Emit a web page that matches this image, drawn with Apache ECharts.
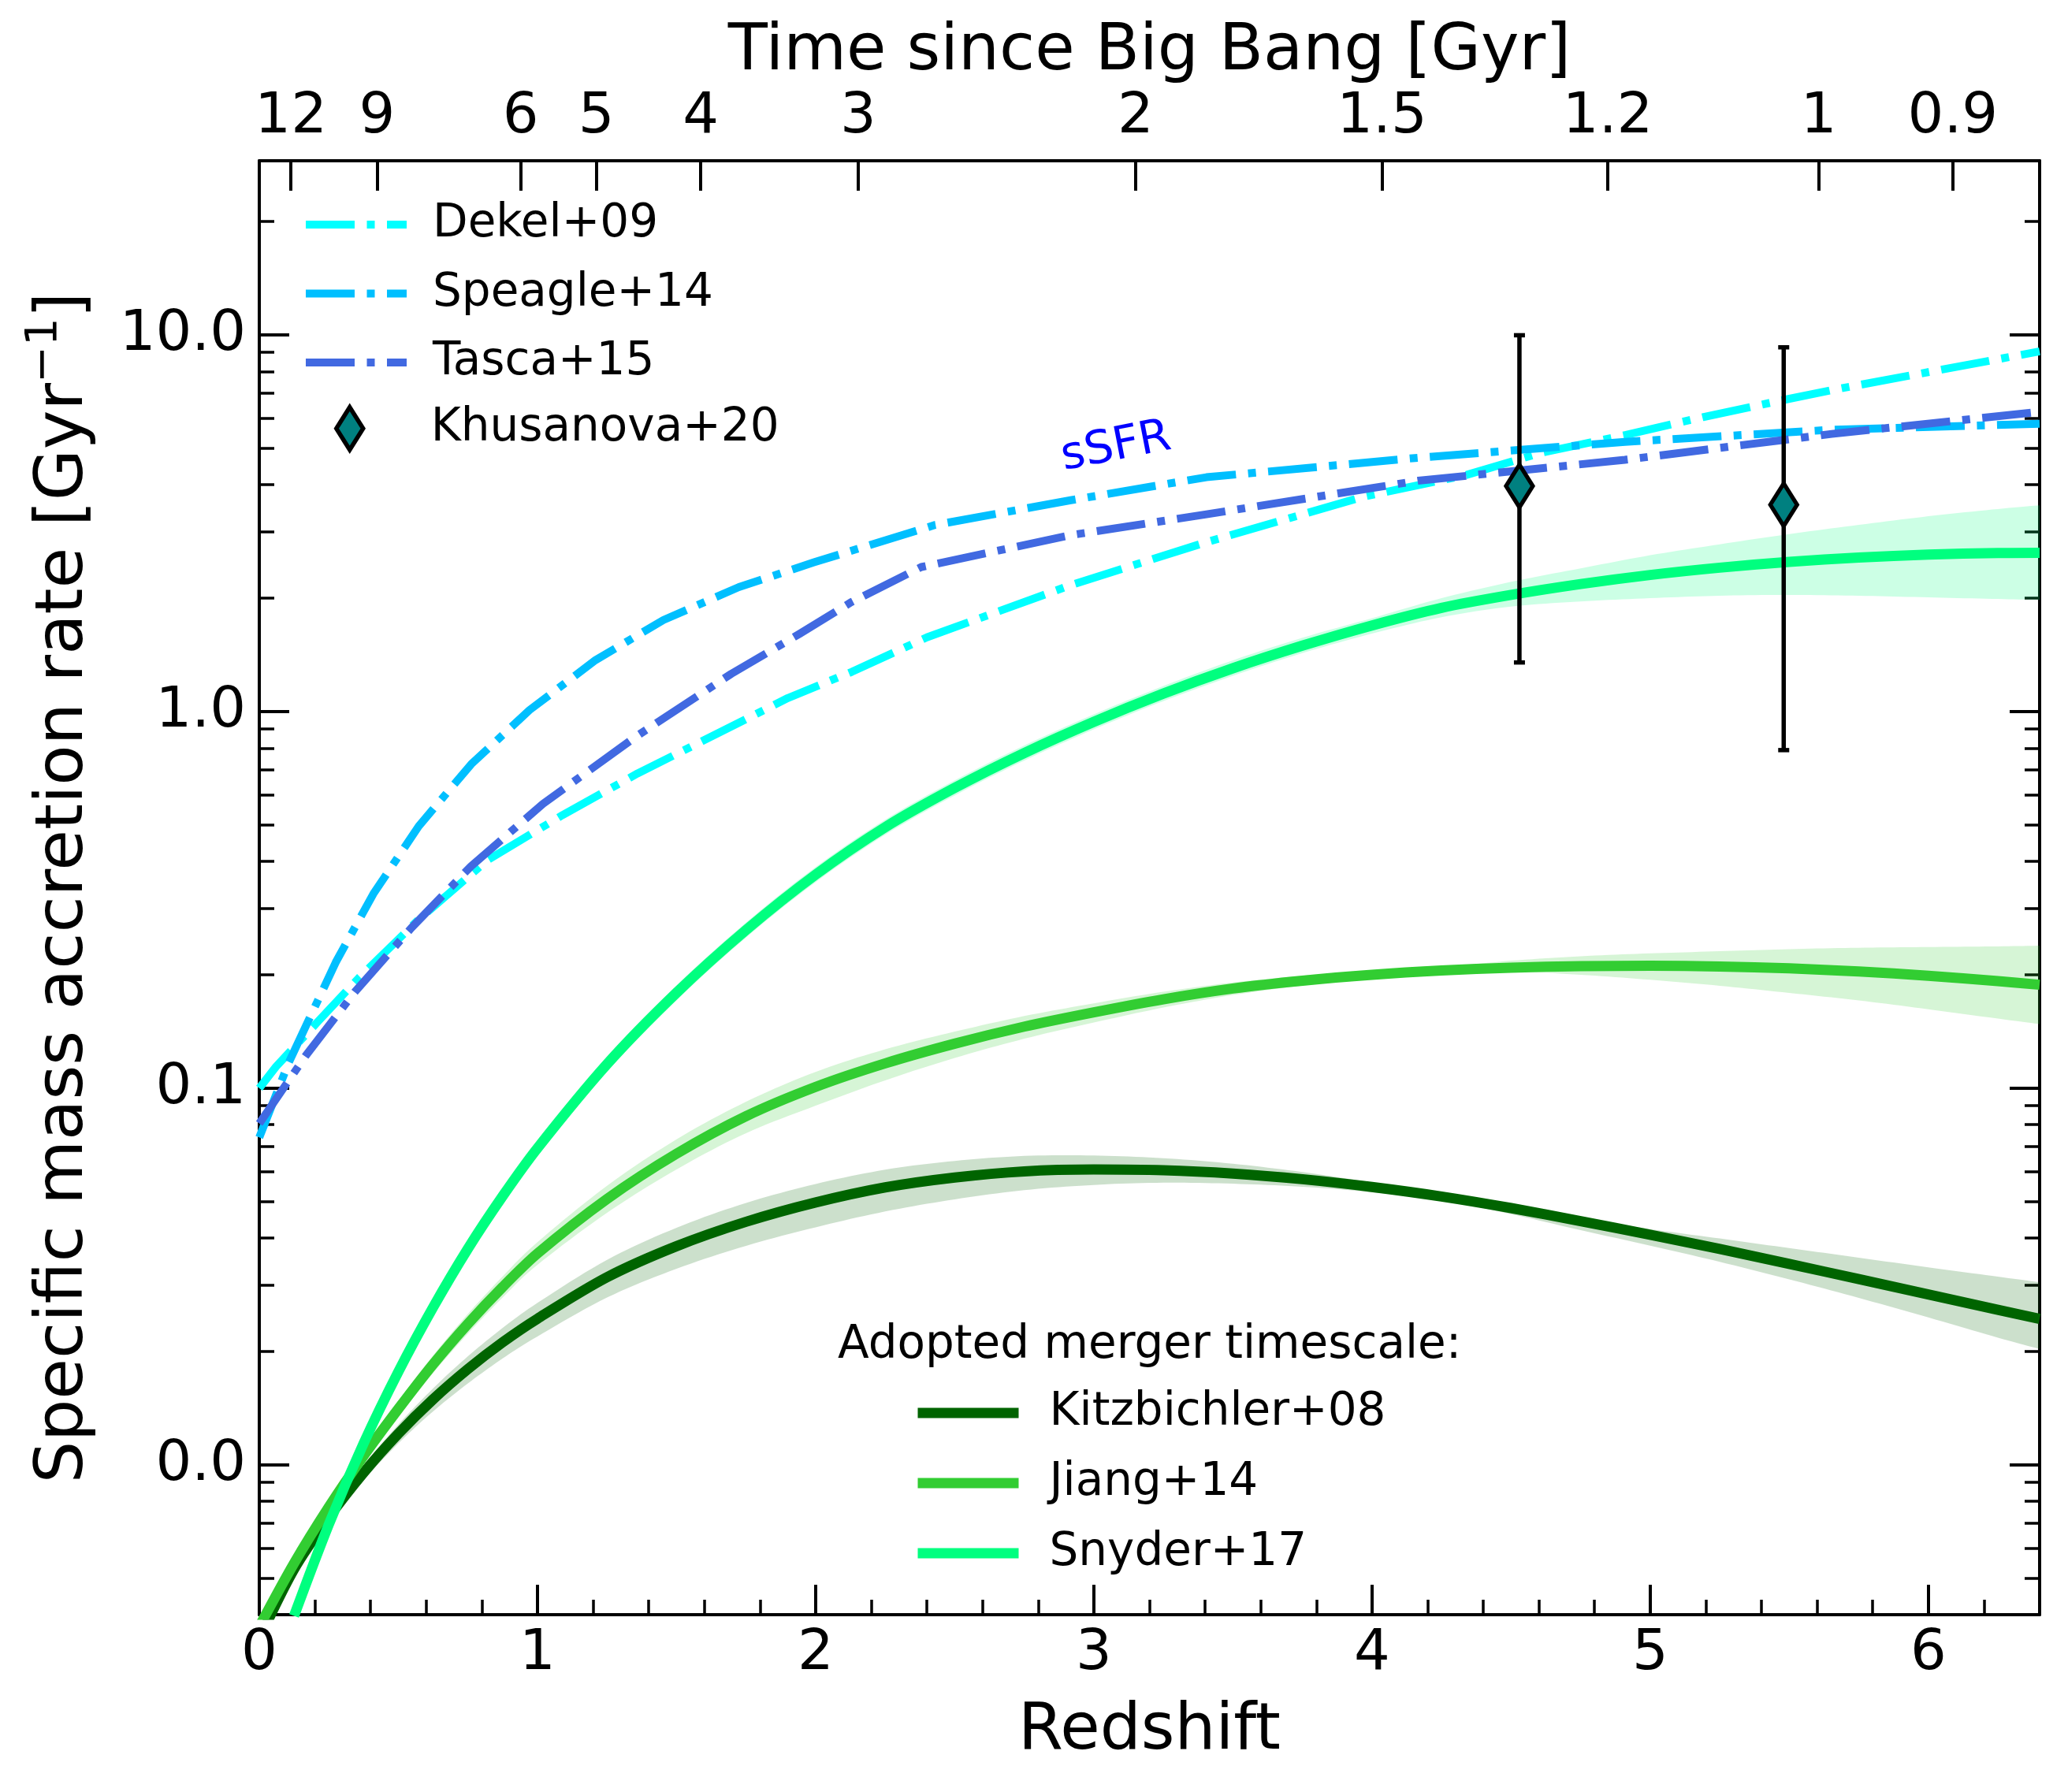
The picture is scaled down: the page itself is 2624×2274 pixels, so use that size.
<!DOCTYPE html>
<html>
<head>
<meta charset="utf-8">
<script src="https://cdn.jsdelivr.net/npm/echarts@6/dist/echarts.min.js"></script>
<style>html,body{margin:0;padding:0;background:#fff}#chart{width:2624px;height:2274px}</style>
</head>
<body>
<div id="chart"></div>
<script>
// ---------------- data ----------------
const redshiftTicks = [0, 1, 2, 3, 4, 5, 6];
const redshiftMinorTicks = [0.2,0.4,0.6,0.8,1.2,1.4,1.6,1.8,2.2,2.4,2.6,2.8,3.2,3.4,3.6,3.8,4.2,4.4,4.6,4.8,5.2,5.4,5.6,5.8,6.2];
const ageTickLabels = ['12','9','6','5','4','3','2','1.5','1.2','1','0.9'];
const ageTickGyr = [12, 9, 6, 5, 4, 3, 2, 1.5, 1.2, 1, 0.9];
const rateTicks = [0.01, 0.1, 1, 10];
const rateMinorTicks = [0.005,0.006,0.007,0.008,0.009,0.02,0.03,0.04,0.05,0.06,0.07,0.08,0.09,0.2,0.3,0.4,0.5,0.6,0.7,0.8,0.9,2,3,4,5,6,7,8,9,20];

// sSFR relations (dash-dot)
const dekelZ    = [0, 0.06, 0.21, 0.36, 0.57, 0.82, 1.09, 1.36, 1.63, 1.90, 2.13, 2.40, 2.92, 3.40, 3.97, 4.34, 4.61, 4.91, 5.19, 5.48, 5.65, 6.40];
const dekelRate = [0.100, 0.114, 0.150, 0.197, 0.279, 0.403, 0.531, 0.685, 0.862, 1.086, 1.275, 1.574, 2.17, 2.81, 3.72, 4.25, 4.87, 5.42, 6.05, 6.72, 7.13, 9.04];
const speagleZ    = [0, 0.106, 0.275, 0.41, 0.573, 0.762, 0.972, 1.209, 1.453, 1.724, 1.994, 2.43, 2.917, 3.405, 4.166, 4.909, 5.653, 6.4];
const speagleRate = [0.074, 0.117, 0.216, 0.328, 0.496, 0.725, 1.01, 1.37, 1.75, 2.14, 2.49, 3.13, 3.64, 4.19, 4.72, 5.2, 5.6, 5.81];
const tascaZ    = [0, 0.167, 0.343, 0.546, 0.762, 1.02, 1.358, 1.697, 1.943, 2.127, 2.38, 2.917, 3.405, 4.166, 4.909, 5.653, 6.4];
const tascaRate = [0.0806, 0.122, 0.18, 0.266, 0.389, 0.569, 0.862, 1.26, 1.61, 1.95, 2.42, 2.94, 3.34, 4.1, 4.66, 5.46, 6.25];

// Khusanova+20 points
const khusZ    = [4.53, 5.48];
const khusRate = [3.97, 3.54];
const khusLow  = [1.35, 0.79];
const khusHigh = [9.98, 9.27];

// merger-rate based curves (solid) with their ranges
const kitzZ    = [0, 0.125, 0.25, 0.375, 0.5, 0.625, 0.75, 0.875, 1, 1.25, 1.5, 1.75, 2, 2.25, 2.5, 2.75, 3, 3.25, 3.5, 3.75, 4, 4.25, 4.5, 4.75, 5, 5.25, 5.5, 5.75, 6, 6.25, 6.4];
const kitzRate = [0.00345, 0.00528, 0.00725, 0.00953, 0.0121, 0.01493, 0.01796, 0.02116, 0.02443, 0.03148, 0.03806, 0.04419, 0.04973, 0.05453, 0.05792, 0.06014, 0.06083, 0.06055, 0.05934, 0.05733, 0.05467, 0.05157, 0.04805, 0.04437, 0.04083, 0.03741, 0.03415, 0.03112, 0.02833, 0.0258, 0.02441];
const kitzLow  = [0.003387, 0.00516, 0.00702, 0.0091, 0.0114, 0.01387, 0.01645, 0.01916, 0.02192, 0.0278, 0.03315, 0.03814, 0.04272, 0.04706, 0.05068, 0.0536, 0.05535, 0.05612, 0.05576, 0.05475, 0.05294, 0.05039, 0.04631, 0.04198, 0.03819, 0.03459, 0.03107, 0.02774, 0.02462, 0.02176, 0.0203];
const kitzHigh = [0.003514, 0.0054, 0.00749, 0.00996, 0.01279, 0.01596, 0.01942, 0.02309, 0.02691, 0.035, 0.0426, 0.04958, 0.05567, 0.06076, 0.0641, 0.06609, 0.06624, 0.06518, 0.063, 0.05989, 0.0562, 0.05253, 0.04872, 0.0452, 0.04226, 0.0399, 0.03762, 0.03548, 0.03344, 0.03159, 0.03052];

const jiangZ    = [0, 0.125, 0.25, 0.375, 0.5, 0.625, 0.75, 0.875, 1, 1.25, 1.5, 1.75, 2, 2.25, 2.5, 2.75, 3, 3.25, 3.5, 3.75, 4, 4.25, 4.5, 4.75, 5, 5.25, 5.5, 5.75, 6, 6.25, 6.4];
const jiangRate = [0.00372, 0.00548, 0.00773, 0.01056, 0.01408, 0.0185, 0.02369, 0.02967, 0.0364, 0.0508, 0.067, 0.0843, 0.1008, 0.1164, 0.1313, 0.1457, 0.159, 0.1722, 0.1839, 0.1929, 0.2, 0.2053, 0.2089, 0.2109, 0.2113, 0.2104, 0.208, 0.2041, 0.1989, 0.1925, 0.1882];
const jiangLow  = [0.00364, 0.00534, 0.00752, 0.01018, 0.01345, 0.01754, 0.02231, 0.02782, 0.03397, 0.04666, 0.06086, 0.07598, 0.08984, 0.1049, 0.1203, 0.1353, 0.1494, 0.1637, 0.1768, 0.1872, 0.1954, 0.2011, 0.204, 0.2, 0.194, 0.187, 0.179, 0.171, 0.162, 0.153, 0.148];
const jiangHigh = [0.00381, 0.00562, 0.00795, 0.01096, 0.01474, 0.01951, 0.02516, 0.03165, 0.039, 0.05506, 0.07315, 0.09204, 0.1105, 0.1268, 0.1413, 0.1554, 0.168, 0.1803, 0.1908, 0.1988, 0.2047, 0.2096, 0.218, 0.224, 0.228, 0.231, 0.234, 0.236, 0.237, 0.238, 0.239];

const snyderZ    = [0.125, 0.25, 0.375, 0.5, 0.625, 0.75, 0.875, 1, 1.25, 1.5, 1.75, 2, 2.25, 2.5, 2.75, 3, 3.25, 3.5, 3.75, 4, 4.25, 4.5, 4.75, 5, 5.25, 5.5, 5.75, 6, 6.25, 6.4];
const snyderRate = [0.00397, 0.00695, 0.0114, 0.01767, 0.0262, 0.0375, 0.0517, 0.0693, 0.1158, 0.1792, 0.263, 0.369, 0.493, 0.627, 0.776, 0.939, 1.116, 1.303, 1.496, 1.693, 1.885, 2.04, 2.18, 2.305, 2.41, 2.497, 2.564, 2.61, 2.636, 2.64];
const snyderLow  = [0.00388, 0.00676, 0.01104, 0.01703, 0.02514, 0.0359, 0.04937, 0.06618, 0.1106, 0.1711, 0.2512, 0.3524, 0.4708, 0.5988, 0.7411, 0.8967, 1.066, 1.244, 1.43, 1.61, 1.78, 1.9, 1.96, 2.0, 2.03, 2.04, 2.03, 2.01, 1.99, 1.98];
const snyderHigh = [0.00406, 0.00714, 0.01177, 0.01833, 0.02731, 0.03918, 0.05414, 0.07257, 0.1213, 0.1876, 0.2754, 0.3864, 0.5162, 0.6566, 0.8126, 0.9833, 1.169, 1.368, 1.57, 1.77, 2.0, 2.21, 2.4, 2.6, 2.78, 2.96, 3.13, 3.3, 3.45, 3.53];

// ---------------- helpers ----------------
const FONT = 'DejaVu Sans';
const L = v => Math.log10(v);               // y axis is logarithmic (decades)
const pairs = (zs, vs) => zs.map((z, i) => [z, L(vs[i])]);
const yMin = L(0.004), yMax = L(29), zMax = 6.4;

// flat LCDM (H0 = 70, Om = 0.3): redshift at a given age, places the top-axis ticks
function redshiftAtAge(tGyr) {
  const H0 = 70, Om = 0.3, OL = 1 - Om;
  const tH = 977.79 / H0;
  const A = 2 * tH / (3 * Math.sqrt(OL));
  const B = Math.sqrt(OL / Om);
  return Math.pow(Math.sinh(tGyr / A) / B, -2 / 3) - 1;
}
const ageTickZ = ageTickGyr.map(redshiftAtAge);

function catmull(pts, seg) {
  const out = [], n = pts.length;
  for (let i = 0; i < n - 1; i++) {
    const p0 = pts[Math.max(i - 1, 0)], p1 = pts[i], p2 = pts[i + 1], p3 = pts[Math.min(i + 2, n - 1)];
    for (let s = 0; s < seg; s++) {
      const t = s / seg, t2 = t * t, t3 = t2 * t;
      const f = k => 0.5 * ((2 * p1[k]) + (-p0[k] + p2[k]) * t + (2 * p0[k] - 5 * p1[k] + 4 * p2[k] - p3[k]) * t2 + (-p0[k] + 3 * p1[k] - 3 * p2[k] + p3[k]) * t3);
      out.push([f(0), f(1)]);
    }
  }
  out.push(pts[n - 1]);
  return out;
}

function band(zs, lo, hi, color) {
  return {
    type: 'custom', xAxisIndex: 0, yAxisIndex: 0, clip: true, silent: true, z: 1,
    data: [[zs[0], L(lo[0])]],
    renderItem: (params, api) => {
      const up = zs.map((z, i) => api.coord([z, L(hi[i])]));
      const dn = zs.map((z, i) => api.coord([z, L(lo[i])]));
      const pts = catmull(up, 10).concat(catmull(dn, 10).reverse());
      return { type: 'polygon', shape: { points: pts }, style: { fill: color } };
    }
  };
}

function curve(name, zs, vs, color, width, dash, smooth, z) {
  return {
    name, type: 'line', xAxisIndex: 0, yAxisIndex: 0, data: pairs(zs, vs),
    symbol: 'none', showSymbol: false, smooth, clip: true, z, silent: true,
    lineStyle: { color, width, type: dash || 'solid', cap: 'butt', join: 'round' },
    itemStyle: { color: 'rgba(0,0,0,0)' }
  };
}

const dashDot = [62, 15.5, 10, 15.5];
const DASH_W = 10, GREEN_W = 13;
const tickLine = w => ({ color: '#000', width: w });

const option = {
  animation: false,
  backgroundColor: '#ffffff',
  grid: { left: 329, right: 36, top: 204, bottom: 225, containLabel: false },
  xAxis: [
    { type: 'value', position: 'bottom', min: 0, max: zMax,
      axisLine: { show: true, onZero: false, lineStyle: tickLine(4) },
      axisTick: { show: true, inside: true, length: 38, customValues: redshiftTicks, lineStyle: tickLine(4) },
      axisLabel: { show: true, customValues: redshiftTicks, margin: 14, fontSize: 72, fontFamily: FONT, color: '#000' },
      splitLine: { show: false },
      name: 'Redshift', nameLocation: 'middle', nameGap: 108,
      nameTextStyle: { fontSize: 82, fontFamily: FONT, color: '#000' } },
    { type: 'value', position: 'bottom', min: 0, max: zMax,
      axisLine: { show: false, onZero: false },
      axisTick: { show: true, inside: true, length: 19, customValues: redshiftMinorTicks, lineStyle: tickLine(3.5) },
      axisLabel: { show: false }, splitLine: { show: false } },
    { type: 'value', position: 'top', min: 0, max: zMax,
      axisLine: { show: true, onZero: false, lineStyle: tickLine(4) },
      axisTick: { show: true, inside: true, length: 38, customValues: ageTickZ, lineStyle: tickLine(4) },
      axisLabel: { show: true, customValues: ageTickZ, margin: 19, fontSize: 72, fontFamily: FONT, color: '#000',
        formatter: v => { let b = 0; ageTickZ.forEach((z, i) => { if (Math.abs(z - v) < Math.abs(ageTickZ[b] - v)) b = i; }); return ageTickLabels[b]; } },
      splitLine: { show: false },
      name: 'Time since Big Bang [Gyr]', nameLocation: 'middle', nameGap: 79,
      nameTextStyle: { fontSize: 82, fontFamily: FONT, color: '#000' } }
  ],
  yAxis: [
    { type: 'value', position: 'left', min: yMin, max: yMax,
      axisLine: { show: true, onZero: false, lineStyle: tickLine(4) },
      axisTick: { show: true, inside: true, length: 38, customValues: rateTicks.map(L), lineStyle: tickLine(4) },
      axisLabel: { show: true, customValues: rateTicks.map(L), margin: 17, fontSize: 72, fontFamily: FONT, color: '#000',
        formatter: v => Math.pow(10, v).toFixed(1) },
      splitLine: { show: false },
      name: '{a|Specific mass accretion rate [Gyr}{s|\u22121}{a|]}', nameLocation: 'middle', nameGap: 193, nameRotate: 90,
      nameTextStyle: { color: '#000', rich: {
        a: { fontSize: 84, fontFamily: FONT, color: '#000', lineHeight: 108 },
        s: { fontSize: 56, fontFamily: FONT, color: '#000', lineHeight: 56, verticalAlign: 'top' } } } },
    { type: 'value', position: 'left', min: yMin, max: yMax,
      axisLine: { show: false, onZero: false },
      axisTick: { show: true, inside: true, length: 19, customValues: rateMinorTicks.map(L), lineStyle: tickLine(3.5) },
      axisLabel: { show: false }, splitLine: { show: false } },
    { type: 'value', position: 'right', min: yMin, max: yMax,
      axisLine: { show: true, onZero: false, lineStyle: tickLine(4) },
      axisTick: { show: true, inside: true, length: 38, customValues: rateTicks.map(L), lineStyle: tickLine(4) },
      axisLabel: { show: false }, splitLine: { show: false } },
    { type: 'value', position: 'right', min: yMin, max: yMax,
      axisLine: { show: false, onZero: false },
      axisTick: { show: true, inside: true, length: 19, customValues: rateMinorTicks.map(L), lineStyle: tickLine(3.5) },
      axisLabel: { show: false }, splitLine: { show: false } }
  ],
  legend: [
    { data: ['Dekel+09', 'Speagle+14', 'Tasca+15'], orient: 'vertical', left: 383, top: 256,
      itemWidth: 128, itemHeight: 56, itemGap: 29.5, selectedMode: false, padding: 0,
      lineStyle: { width: DASH_W }, itemStyle: { opacity: 0 },
      textStyle: { fontSize: 58, fontFamily: FONT, color: '#000', padding: [0, 0, 0, 28] } },
    { data: [{ name: 'Khusanova+20', icon: 'path://M17,0L34,27L17,54L0,27Z',
               itemStyle: { color: '#008080', borderColor: '#000', borderWidth: 5.5 } }],
      orient: 'vertical', left: 424, top: 514, itemWidth: 116, itemHeight: 54, selectedMode: false, padding: 0,
      textStyle: { fontSize: 58, fontFamily: FONT, color: '#000', padding: [0, 0, 0, 40] } },
    { data: ['Kitzbichler+08', 'Jiang+14', 'Snyder+17'], orient: 'vertical', left: 1158, top: 1764,
      itemWidth: 128, itemHeight: 56, itemGap: 31, selectedMode: false, padding: 0,
      lineStyle: { width: 13 }, itemStyle: { opacity: 0 },
      textStyle: { fontSize: 58, fontFamily: FONT, color: '#000', padding: [0, 0, 0, 34] } }
  ],
  graphic: [
    { id: 'mergerTitle', type: 'text', x: 1063, y: 1708, silent: true,
      style: { text: 'Adopted merger timescale:', fill: '#000', fontSize: 58, fontFamily: FONT,
               align: 'left', verticalAlign: 'middle', textAlign: 'left', textVerticalAlign: 'middle' } }
  ],
  series: [
    band(kitzZ, kitzLow, kitzHigh, 'rgba(0,100,0,0.2)'),
    band(jiangZ, jiangLow, jiangHigh, 'rgba(50,205,50,0.2)'),
    band(snyderZ, snyderLow, snyderHigh, 'rgba(0,255,127,0.2)'),
    curve('Kitzbichler+08', kitzZ, kitzRate, '#006400', GREEN_W, 'solid', 0.3, 3),
    curve('Jiang+14', jiangZ, jiangRate, '#32CD32', GREEN_W, 'solid', 0.3, 3),
    curve('Snyder+17', snyderZ, snyderRate, '#00FF7F', GREEN_W, 'solid', 0.3, 3),
    curve('Dekel+09', dekelZ, dekelRate, '#00FFFF', DASH_W, dashDot, false, 4),
    curve('Speagle+14', speagleZ, speagleRate, '#00BFFF', DASH_W, dashDot, false, 4),
    curve('Tasca+15', tascaZ, tascaRate, '#4169E1', DASH_W, dashDot, false, 4),
    { type: 'custom', xAxisIndex: 0, yAxisIndex: 0, silent: true, z: 5,
      data: khusZ.map((z, i) => [z, L(khusLow[i]), L(khusHigh[i])]),
      encode: { x: 0, y: [1, 2] },
      renderItem: (params, api) => {
        const lo = api.coord([api.value(0), api.value(1)]);
        const hi = api.coord([api.value(0), api.value(2)]);
        const st = { stroke: '#000', lineWidth: 5.5 };
        return { type: 'group', children: [
          { type: 'line', shape: { x1: lo[0], y1: lo[1], x2: hi[0], y2: hi[1] }, style: st },
          { type: 'line', shape: { x1: lo[0] - 7, y1: lo[1], x2: lo[0] + 7, y2: lo[1] }, style: st },
          { type: 'line', shape: { x1: hi[0] - 7, y1: hi[1], x2: hi[0] + 7, y2: hi[1] }, style: st }
        ] };
      } },
    { name: 'Khusanova+20', type: 'scatter', xAxisIndex: 0, yAxisIndex: 0, z: 6, silent: true,
      data: pairs(khusZ, khusRate), symbol: 'diamond', symbolSize: [34, 54],
      itemStyle: { color: '#008080', borderColor: '#000', borderWidth: 5.5, opacity: 1 } }
  ]
};

const chart = echarts.init(document.getElementById('chart'), null, { renderer: 'canvas', width: 2624, height: 2274 });
chart.setOption(option);

// "sSFR" annotation placed in data coordinates
const ssfrPos = chart.convertToPixel({ xAxisIndex: 0, yAxisIndex: 0 }, [3.08, L(5.02)]);
chart.setOption({ graphic: [
  { id: 'mergerTitle' },
  { id: 'ssfr', type: 'text', x: ssfrPos[0], y: ssfrPos[1], rotation: 11 * Math.PI / 180, silent: true,
    style: { text: 'sSFR', fill: '#0000FF', fontSize: 58, fontFamily: FONT,
             align: 'center', verticalAlign: 'middle', textAlign: 'center', textVerticalAlign: 'middle' } }
] });
</script>
</body>
</html>
